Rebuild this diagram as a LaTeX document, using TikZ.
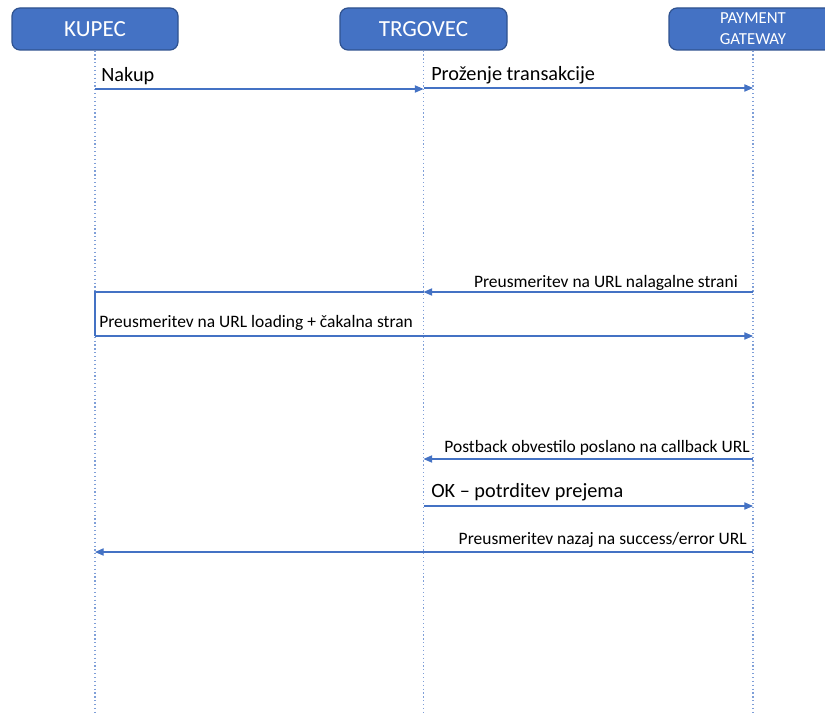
\documentclass[tikz,border=0pt]{standalone}
\usepackage{fontspec}
\setmainfont{Carlito}
\usetikzlibrary{arrows.meta,calc}
\definecolor{boxfill}{HTML}{4472C4}
\definecolor{boxline}{HTML}{2F528F}
\definecolor{lifec}{HTML}{7F9FD8}
\definecolor{msgc}{HTML}{4472C4}
\begin{document}
\begin{tikzpicture}[x=0.75pt,y=-0.75pt,
  actor/.style={draw=boxline, line width=0.9pt, fill=boxfill, rounded corners=6pt,
    text=white, minimum height=31.5pt, inner sep=0pt, align=center},
  life/.style={lifec, dotted, line width=0.9pt},
  msg/.style={msgc, line width=0.8pt, -{Triangle[length=6.5pt,width=5.5pt]}},
  plain/.style={msgc, line width=0.8pt},
  big/.style={font=\fontsize{15.2}{18}\selectfont, inner sep=0pt, text=black},
  small/.style={font=\fontsize{13.1}{15}\selectfont, inner sep=0pt, text=black}]

\useasboundingbox (0,0) rectangle (825,713);
\clip (0,0) rectangle (825,713);

% actors
\node[actor, minimum width=124.5pt, font=\fontsize{17.3}{20}\selectfont] (kupec) at (95,29) {KUPEC};
\node[actor, minimum width=125.25pt, font=\fontsize{17.3}{20}\selectfont] (trg) at (423.5,29) {TRGOVEC};
\node[actor, minimum width=126pt, font=\fontsize{12.6}{16}\selectfont] (pg) at (753,29) {PAYMENT\\GATEWAY};

% lifelines
\draw[life] (kupec.south) -- (kupec.south |- 0,713);
\draw[life] (trg.south) -- (trg.south |- 0,713);
\draw[life] (pg.south) -- (pg.south |- 0,713);

% messages
\draw[msg] (kupec.south |- 0,89) -- (trg.south |- 0,89);
\node[big, anchor=base west] (l1) at (101,82) {Nakup};

\draw[msg] (trg.south |- 0,88) -- (pg.south |- 0,88);
\node[big, anchor=base west] (l2) at (431,81) {Proženje transakcije};

\draw[msg] (pg.south |- 0,292) -- (trg.south |- 0,292);
\node[small, anchor=base east] (l3) at (738,287) {Preusmeritev na URL nalagalne strani};

\draw[plain] (trg.south |- 0,292) -- (kupec.south |- 0,292) -- (kupec.south |- 0,336);
\draw[msg] (kupec.south |- 0,336) -- (pg.south |- 0,336);
\node[small, anchor=base west] (l4) at (99,327) {Preusmeritev na URL loading + čakalna stran};

\draw[msg] (pg.south |- 0,459) -- (trg.south |- 0,459);
\node[small, anchor=base east] (l5) at (750,452) {Postback obvestilo poslano na callback URL};

\draw[msg] (trg.south |- 0,506) -- (pg.south |- 0,506);
\node[big, anchor=base west] (l6) at (431,497) {OK – potrditev prejema};

\draw[msg] (pg.south |- 0,552) -- (kupec.south |- 0,552);
\node[small, anchor=base east] (l7) at (747,544) {Preusmeritev nazaj na success/error URL};
\end{tikzpicture}
\end{document}
